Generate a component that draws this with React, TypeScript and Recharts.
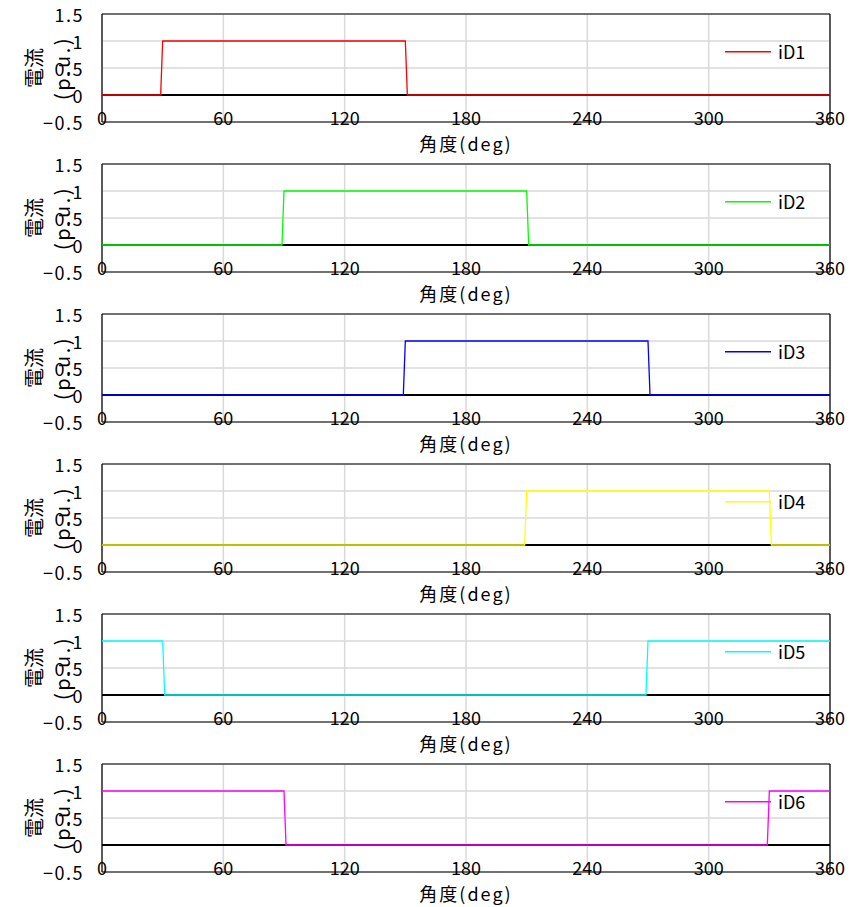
import React from 'react';
import { LineChart, Line, XAxis, YAxis, CartesianGrid, ReferenceLine, Legend } from 'recharts';

// ---- data ----
const seriesNames = ['iD1', 'iD2', 'iD3', 'iD4', 'iD5', 'iD6'];

const iD1Angle = [0, 29, 30, 150, 151, 360];
const iD1Value = [0, 0, 1, 1, 0, 0];
const iD2Angle = [0, 89, 90, 210, 211, 360];
const iD2Value = [0, 0, 1, 1, 0, 0];
const iD3Angle = [0, 149, 150, 270, 271, 360];
const iD3Value = [0, 0, 1, 1, 0, 0];
const iD4Angle = [0, 209, 210, 330, 331, 360];
const iD4Value = [0, 0, 1, 1, 0, 0];
const iD5Angle = [0, 30, 31, 269, 270, 360];
const iD5Value = [1, 1, 0, 0, 1, 1];
const iD6Angle = [0, 90, 91, 329, 330, 360];
const iD6Value = [1, 1, 0, 0, 1, 1];

const xTicks = [0, 60, 120, 180, 240, 300, 360];
const yTicks = [-0.5, 0, 0.5, 1, 1.5];
const xLabel = '角度(deg)';
const yLabel1 = '電流';
const yLabel2 = '(p.u.)';

const angles = [iD1Angle, iD2Angle, iD3Angle, iD4Angle, iD5Angle, iD6Angle];
const values = [iD1Value, iD2Value, iD3Value, iD4Value, iD5Value, iD6Value];

// ---- styles ----
const colors = ['#ff0000', '#00ff00', '#0000ff', '#ffff00', '#00ffff', '#ff00ff'];
const FONT = '"Noto Sans CJK JP", "Noto Sans", sans-serif';
const W = 864;
const STEP = 150;
const H = 162;

const fmtY = (v: number) => String(v).replace('-', '−');

const XTick = (props: any) => {
  const { x, y, payload } = props;
  return (
    <text x={x} y={y - 5} textAnchor="middle" dominantBaseline="central" fontSize={18} fontFamily={FONT} fill="#000">
      {payload.value}
    </text>
  );
};

const YTick = (props: any) => {
  const { x, y, payload } = props;
  return (
    <text x={x} y={y} textAnchor="end" dominantBaseline="central" fontSize={18} fontFamily={FONT} fill="#000" letterSpacing={1.5}>
      {fmtY(payload.value)}
    </text>
  );
};

const XLabel = (props: any) => {
  const vb = props.viewBox || {};
  const cx = vb.x + vb.width / 2;
  return (
    <text x={cx} y={vb.y + 21} textAnchor="middle" dominantBaseline="central" fontSize={18} fontFamily={FONT} fill="#000" letterSpacing={2}>
      {xLabel}
    </text>
  );
};

const YLabel = (props: any) => {
  const vb = props.viewBox || {};
  const cy = vb.y + vb.height / 2;
  return (
    <g>
      <text x={33} y={cy} transform={`rotate(-90 33 ${cy})`} textAnchor="middle" dominantBaseline="central" fontSize={20} fontFamily={FONT} fill="#000">
        {yLabel1}
      </text>
      <text x={61} y={cy} transform={`rotate(-90 61 ${cy})`} textAnchor="middle" dominantBaseline="central" fontSize={20} fontFamily={FONT} fill="#000" letterSpacing={2.5}>
        {yLabel2}
      </text>
    </g>
  );
};

const Panel = ({ idx }: { idx: number }) => {
  const data = angles[idx].map((a, i) => ({ a, v: values[idx][i] }));
  const color = colors[idx];
  const name = seriesNames[idx];
  return (
    <LineChart width={W} height={H} data={data} margin={{ top: 14, right: 34, bottom: 12, left: 0 }}>
      <CartesianGrid stroke="#d9d9d9" strokeWidth={1.5} />
      <XAxis
        dataKey="a"
        type="number"
        domain={[0, 360]}
        ticks={xTicks}
        interval={0}
        height={28}
        tickSize={0}
        tickMargin={0}
        axisLine={false}
        tickLine={false}
        tick={<XTick />}
        label={<XLabel />}
      />
      <YAxis
        type="number"
        domain={[-0.5, 1.5]}
        ticks={yTicks}
        interval={0}
        width={102}
        tickSize={0}
        tickMargin={18}
        axisLine={false}
        tickLine={false}
        tick={<YTick />}
        label={<YLabel />}
      />
      <ReferenceLine y={1.5} stroke="#000" strokeWidth={1.2} />
      <ReferenceLine y={-0.5} stroke="#000" strokeWidth={1.2} />
      <ReferenceLine x={0} stroke="#000" strokeWidth={1.2} />
      <ReferenceLine x={360} stroke="#000" strokeWidth={1.2} />
      <ReferenceLine y={0} stroke="#000" strokeWidth={2} />
      <Line
        type="linear"
        dataKey="v"
        name={name}
        stroke={color}
        strokeWidth={1.3}
        dot={false}
        activeDot={false}
        isAnimationActive={false}
      />
      <Legend
        layout="horizontal"
        verticalAlign="middle"
        align="center"
        wrapperStyle={{ position: 'absolute', left: 725, top: 41, width: 100, height: 20 }}
        content={() => (
          <div style={{ display: 'flex', alignItems: 'center', height: 20 }}>
            <svg width={46} height={20} style={{ display: 'block' }}>
              <rect x={0} y={10} width={46} height={1.5} fill={color} stroke="none" />
            </svg>
            <span style={{ marginLeft: 7, fontFamily: FONT, fontSize: 18, color: '#000', lineHeight: '20px' }}>{name}</span>
          </div>
        )}
      />
    </LineChart>
  );
};

export default function App() {
  return (
    <div style={{ position: 'absolute', left: 0, top: 0, width: W, height: 907, background: '#fff' }}>
      {seriesNames.map((n, i) => (
        <div key={n} style={{ position: 'absolute', left: 0, top: i * STEP, width: W, height: H }}>
          <Panel idx={i} />
        </div>
      ))}
    </div>
  );
}
